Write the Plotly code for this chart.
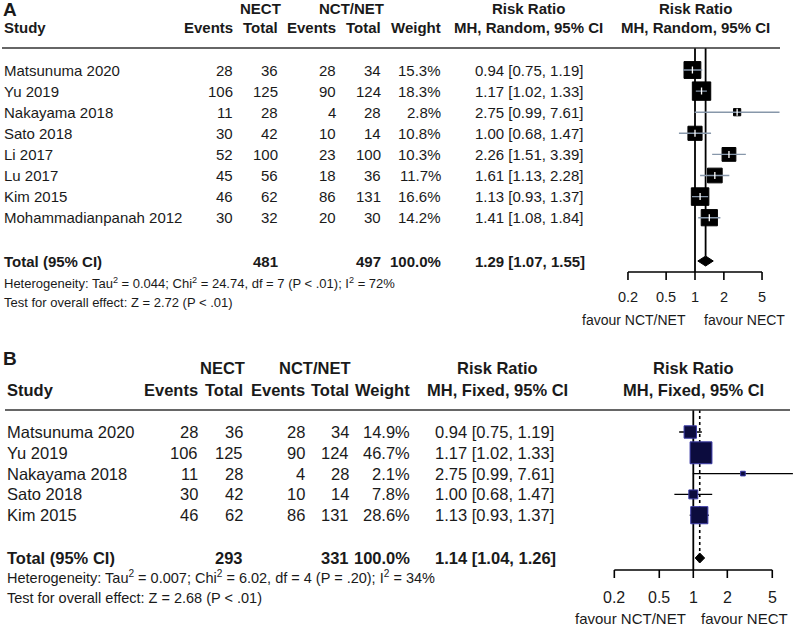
import numpy as np
import plotly.graph_objects as go

# ---------------- data: panel A (random effects) ----------------
studies_a = ["Matsunuma 2020", "Yu 2019", "Nakayama 2018", "Sato 2018", "Li 2017",
             "Lu 2017", "Kim 2015", "Mohammadianpanah 2012"]
nect_events_a = [28, 106, 11, 30, 52, 45, 46, 30]
nect_total_a = [36, 125, 28, 42, 100, 56, 62, 32]
nct_events_a = [28, 90, 4, 10, 23, 18, 86, 20]
nct_total_a = [34, 124, 28, 14, 100, 36, 131, 30]
weight_a = [15.3, 18.3, 2.8, 10.8, 10.3, 11.7, 16.6, 14.2]
rr_a = [0.94, 1.17, 2.75, 1.00, 2.26, 1.61, 1.13, 1.41]
lo_a = [0.75, 1.02, 0.99, 0.68, 1.51, 1.13, 0.93, 1.08]
hi_a = [1.19, 1.33, 7.61, 1.47, 3.39, 2.28, 1.37, 1.84]
sum_totals_a = [481, 497]
total_weight_a = 100.0
pooled_a = [1.29, 1.07, 1.55]
het_a = "Heterogeneity: Tau<sup>2</sup> = 0.044; Chi<sup>2</sup> = 24.74, df = 7 (P < .01); I<sup>2</sup> = 72%"
test_a = "Test for overall effect: Z = 2.72 (P < .01)"
method_a = "MH, Random, 95% CI"

# ---------------- data: panel B (fixed effects) ----------------
studies_b = ["Matsunuma 2020", "Yu 2019", "Nakayama 2018", "Sato 2018", "Kim 2015"]
nect_events_b = [28, 106, 11, 30, 46]
nect_total_b = [36, 125, 28, 42, 62]
nct_events_b = [28, 90, 4, 10, 86]
nct_total_b = [34, 124, 28, 14, 131]
weight_b = [14.9, 46.7, 2.1, 7.8, 28.6]
rr_b = [0.94, 1.17, 2.75, 1.00, 1.13]
lo_b = [0.75, 1.02, 0.99, 0.68, 0.93]
hi_b = [1.19, 1.33, 7.61, 1.47, 1.37]
sum_totals_b = [293, 331]
total_weight_b = 100.0
pooled_b = [1.14, 1.04, 1.26]
het_b = "Heterogeneity: Tau<sup>2</sup> = 0.007; Chi<sup>2</sup> = 6.02, df = 4 (P = .20); I<sup>2</sup> = 34%"
test_b = "Test for overall effect: Z = 2.68 (P < .01)"
method_b = "MH, Fixed, 95% CI"

ticks = [0.2, 0.5, 1, 2, 5]
tick_labels = ["0.2", "0.5", "1", "2", "5"]
favour_left = "favour NCT/NET"
favour_right = "favour NECT"

W, H = 800, 627
TXT = "#1a1a1a"

fig = go.Figure()
annotations = []
shapes = []


def add_text(x, y, text, anchor, family, size, xref="x", bold=False):
    annotations.append(dict(
        x=x, y=y, xref=xref, yref="y", text=("<b>%s</b>" % text) if bold else text,
        showarrow=False, xanchor=anchor, yanchor="middle",
        font=dict(family=family, size=size, color=TXT)))


def panel(cfg, d):
    fam = cfg["font"]
    fs = cfg["fs"]
    xa = cfg["xaxis"]
    add_text(cfg["letter_x"], cfg["letter_y"], cfg["letter"], "left", fam, 19, bold=True)
    y1, y2 = cfg["hdr1_y"], cfg["hdr2_y"]
    add_text(cfg["nect_hdr"], y1, "NECT", "center", fam, fs, bold=True)
    add_text(cfg["nct_hdr"], y1, "NCT/NET", "center", fam, fs, bold=True)
    add_text(cfg["rr_hdr"], y1, "Risk Ratio", "center", fam, fs, bold=True)
    add_text(cfg["plot_hdr"], y1, "Risk Ratio", "center", fam, fs, bold=True)
    add_text(cfg["study_x"], y2, "Study", "left", fam, fs, bold=True)
    for key, lab in [("ev1", "Events"), ("tot1", "Total"), ("ev2", "Events"),
                     ("tot2", "Total"), ("wt", "Weight")]:
        add_text(cfg[key], y2, lab, "right", fam, fs, bold=True)
    add_text(cfg["rr_hdr"], y2, d["method"], "center", fam, fs, bold=True)
    add_text(cfg["plot_hdr"], y2, d["method"], "center", fam, fs, bold=True)
    shapes.append(dict(type="line", xref="x", yref="y", x0=cfg["rule_x0"], x1=cfg["rule_x1"],
                       y0=cfg["rule_y"], y1=cfg["rule_y"], line=dict(color="#333333", width=1.6)))
    n = len(d["studies"])
    ys = [cfg["row0"] + i * cfg["dy"] for i in range(n)]
    for i in range(n):
        y = ys[i]
        add_text(cfg["study_x"], y, d["studies"][i], "left", fam, fs)
        add_text(cfg["ev1"], y, str(d["ev1"][i]), "right", fam, fs)
        add_text(cfg["tot1"], y, str(d["tot1"][i]), "right", fam, fs)
        add_text(cfg["ev2"], y, str(d["ev2"][i]), "right", fam, fs)
        add_text(cfg["tot2"], y, str(d["tot2"][i]), "right", fam, fs)
        add_text(cfg["wt"], y, "%.1f%%" % d["w"][i], "right", fam, fs)
        add_text(cfg["rr_x"], y, "%.2f [%.2f, %.2f]" % (d["rr"][i], d["lo"][i], d["hi"][i]),
                 "left", fam, fs)
    yt = cfg["total_y"]
    add_text(cfg["study_x"], yt, "Total (95% CI)", "left", fam, fs, bold=True)
    add_text(cfg["tot1"], yt, str(d["totals"][0]), "right", fam, fs, bold=True)
    add_text(cfg["tot2"], yt, str(d["totals"][1]), "right", fam, fs, bold=True)
    add_text(cfg["wt"], yt, "%.1f%%" % d["total_w"], "right", fam, fs, bold=True)
    add_text(cfg["rr_x"], yt, "%.2f [%.2f, %.2f]" % tuple(d["pooled"]), "left", fam, fs, bold=True)
    add_text(cfg["study_x"], cfg["het_y"], d["het"], "left", fam, cfg["fs_small"])
    add_text(cfg["study_x"], cfg["test_y"], d["test"], "left", fam, cfg["fs_small"])

    ax_y = cfg["axis_y"]
    fig.add_trace(go.Scatter(x=[1, 1], y=[cfg["rule_y"], ax_y], mode="lines",
                             line=dict(color="black", width=1.8), xaxis=xa, yaxis="y",
                             hoverinfo="skip", showlegend=False))
    fig.add_trace(go.Scatter(x=[d["pooled"][0]] * 2, y=[cfg["rule_y"], yt - 5],
                             mode="lines", line=dict(color="black", width=cfg["pool_w"],
                                                     dash=cfg["pool_dash"]),
                             xaxis=xa, yaxis="y", hoverinfo="skip", showlegend=False))
    cx, cy = [], []
    for i in range(n):
        cx += [d["lo"][i], d["hi"][i], None]
        cy += [ys[i], ys[i], None]
    ci_trace = go.Scatter(x=cx, y=cy, mode="lines", line=dict(color=cfg["ci_col"], width=1.4),
                          xaxis=xa, yaxis="y", hoverinfo="skip", showlegend=False)
    sizes = [cfg["sq_k"] * np.sqrt(w) for w in d["w"]]
    sq_trace = go.Scatter(x=d["rr"], y=ys, mode="markers",
                          marker=dict(symbol="square", size=sizes, color=cfg["sq_col"], opacity=1,
                                      line=dict(color=cfg["sq_line"], width=1)),
                          xaxis=xa, yaxis="y", hoverinfo="skip", showlegend=False)
    if cfg["ci_on_top"]:
        fig.add_trace(sq_trace)
        fig.add_trace(ci_trace)
        fig.add_trace(go.Scatter(x=d["rr"], y=ys, mode="markers",
                                 marker=dict(symbol="line-ns", size=5, opacity=1,
                                             line=dict(color="white", width=1.3)),
                                 xaxis=xa, yaxis="y", hoverinfo="skip", showlegend=False))
    else:
        fig.add_trace(ci_trace)
        fig.add_trace(sq_trace)
    est, plo, phi = d["pooled"]
    fig.add_trace(go.Scatter(x=[plo, est, phi, est, plo], y=[yt, yt - 5, yt, yt + 5, yt],
                             mode="lines", fill="toself", fillcolor="black",
                             line=dict(color="black", width=1), xaxis=xa, yaxis="y",
                             hoverinfo="skip", showlegend=False))
    axx, axy = [ticks[0], ticks[-1], None], [ax_y, ax_y, None]
    for t in ticks:
        axx += [t, t, None]
        axy += [ax_y, ax_y + 8, None]
    fig.add_trace(go.Scatter(x=axx, y=axy, mode="lines", line=dict(color="black", width=1.6),
                             xaxis=xa, yaxis="y", hoverinfo="skip", showlegend=False))
    for t, lab in zip(ticks, tick_labels):
        add_text(np.log10(t), cfg["ticklab_y"], lab, "center", fam, cfg["fs_axis"], xref=xa)
    add_text(np.log10(1) - cfg["fav_gap"], cfg["fav_y"], favour_left, "right", fam,
             cfg["fs_fav"], xref=xa)
    add_text(np.log10(1) + cfg["fav_gap"], cfg["fav_y"], favour_right, "left", fam,
             cfg["fs_fav"], xref=xa)


FONT = "Liberation Sans, Arial, sans-serif"
cfg_a = dict(font=FONT, fs=15, fs_small=13, fs_axis=14.5, fs_fav=14,
             xaxis="x2", letter="A", letter_x=1, letter_y=9,
             hdr1_y=8, hdr2_y=27, nect_hdr=260, nct_hdr=351, rr_hdr=528, plot_hdr=695,
             study_x=2, ev1=235, tot1=280, ev2=338, tot2=383, wt=443, rr_x=473,
             rule_x0=2, rule_x1=780, rule_y=48, row0=70, dy=21.1, total_y=261,
             het_y=283, test_y=302, axis_y=272, ticklab_y=297, fav_y=320, fav_gap=0.075,
             pool_w=1.8, pool_dash="solid", ci_col="#8797aa", sq_col="black", sq_line="black",
             sq_k=4.3, ci_on_top=True)
cfg_b = dict(font=FONT, fs=16.5, fs_small=14.5, fs_axis=16, fs_fav=15,
             xaxis="x3", letter="B", letter_x=1, letter_y=358,
             hdr1_y=368, hdr2_y=390, nect_hdr=222, nct_hdr=315, rr_hdr=497, plot_hdr=693,
             study_x=5, ev1=200, tot1=245, ev2=307, tot2=351, wt=412, rr_x=433,
             rule_x0=5, rule_x1=790, rule_y=410, row0=432, dy=20.8, total_y=558,
             het_y=577, test_y=598, axis_y=570, ticklab_y=597, fav_y=618, fav_gap=0.05,
             pool_w=1.6, pool_dash="dot", ci_col="black", sq_col="#0c0c3e", sq_line="#3a3aa6",
             sq_k=3.2, ci_on_top=False)

data_a = dict(studies=studies_a, ev1=nect_events_a, tot1=nect_total_a, ev2=nct_events_a,
              tot2=nct_total_a, w=weight_a, rr=rr_a, lo=lo_a, hi=hi_a, totals=sum_totals_a,
              total_w=total_weight_a, pooled=pooled_a, het=het_a, test=test_a, method=method_a)
data_b = dict(studies=studies_b, ev1=nect_events_b, tot1=nect_total_b, ev2=nct_events_b,
              tot2=nct_total_b, w=weight_b, rr=rr_b, lo=lo_b, hi=hi_b, totals=sum_totals_b,
              total_w=total_weight_b, pooled=pooled_b, het=het_b, test=test_b, method=method_b)

panel(cfg_a, data_a)
panel(cfg_b, data_b)


def log_axis(px_one, px_decade, lmin, lmax):
    x0 = px_one + lmin * px_decade
    x1 = px_one + lmax * px_decade
    return dict(type="log", range=[lmin, lmax], domain=[x0 / W, x1 / W], anchor="y",
                visible=False, fixedrange=True)


fig.update_layout(
    width=W, height=H, margin=dict(l=0, r=0, t=0, b=0),
    paper_bgcolor="white", plot_bgcolor="rgba(0,0,0,0)",
    xaxis=dict(range=[0, W], domain=[0, 1], visible=False, fixedrange=True),
    yaxis=dict(range=[H, 0], domain=[0, 1], visible=False, fixedrange=True),
    xaxis2=log_axis(695, 95.9, -0.8, 0.95),
    xaxis3=log_axis(693.3, 113.0, -0.8, 0.94),
    annotations=annotations, shapes=shapes, showlegend=False, hovermode=False,
)

fig.write_html("out.html", config={"displayModeBar": False, "staticPlot": True},
               post_script="document.body.style.margin='0';document.body.style.overflow='hidden';")
